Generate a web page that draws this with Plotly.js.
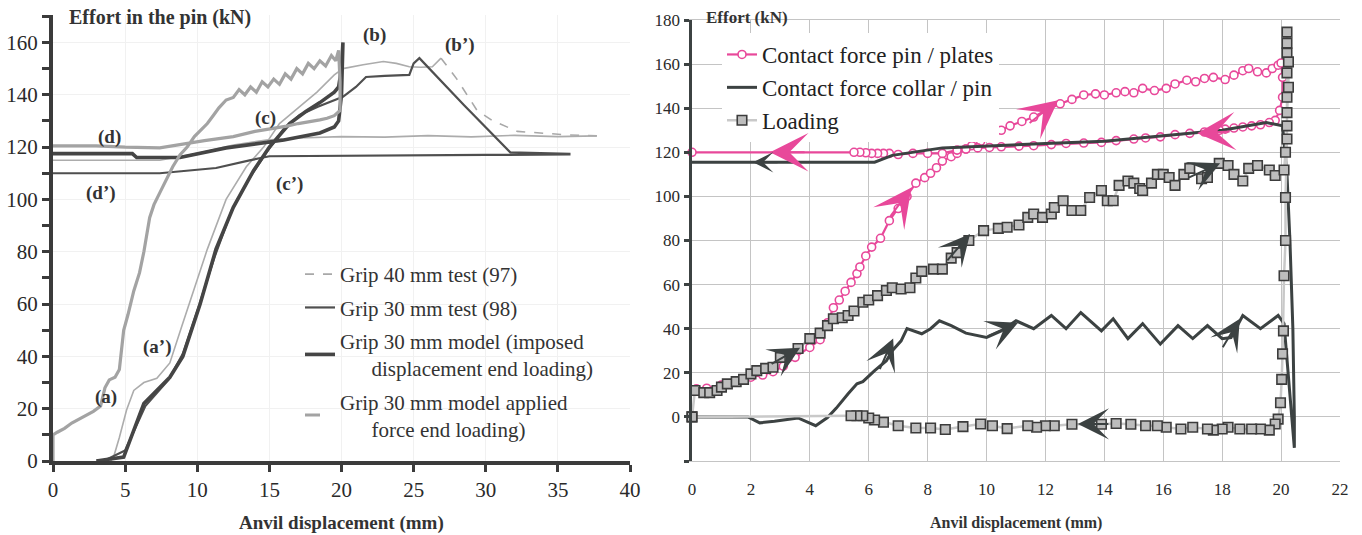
<!DOCTYPE html>
<html><head><meta charset="utf-8">
<script src="https://cdn.plot.ly/plotly-3.0.1.min.js"></script>
<style>body{margin:0;background:#fff}#c{width:1362px;height:535px}</style>
</head><body><div id="c"></div>
<script>
// ---------- LEFT PANEL DATA ----------
const t97X = [4.0,4.2,4.6,5.1,5.6,6.3,7.2,8.1,8.9,9.7,10.7,12.0,13.4,14.6,15.7,17.1,18.3,19.5,20.1,21.5,22.9,23.8,24.7,25.5,26.3,26.9];
const t97Y = [0,1.5,9,19.5,27,30,31.6,37.5,51,64,81,100,112.5,120,129,135.5,141,147.6,150,151.5,152.7,152,150.7,150.5,150.7,154];
const t97DX = [26.9,28.0,29.4,30.5,32.2,34.0,35.6,37.7];
const t97DY = [154,146,134,130,126,125.4,124.7,124.3];
const t97RX = [37.7,35,32,29,26,23,20,17,14.8,12.5,10.2,7.4,0];
const t97RY = [124.3,124.0,124.5,123.9,124.4,123.8,124.0,123.5,122.7,120.8,117.8,115,115];

const t98X = [3.5,5.0,6.4,8.0,9.0,10.1,11.2,12.4,13.6,14.8,16.0,17.1,18.4,19.3,20.1,21.0,21.7,23.0,24.7,25.0,25.4,28.5,31.7,35.8];
const t98Y = [0,4,21,31,41,59,78,96,108,118,127,132.3,135.5,137.5,139.2,143,146.8,147.2,147.6,152,154,136,118,117.4];
const t98RX = [35.8,30,25,20,15,13.7,11.3,7.4,0];
const t98RY = [117.2,117.0,116.9,116.8,116.5,115,112,110,110];

const miX = [3.0,4.9,6.3,8.1,9.0,10.2,11.3,12.5,13.9,15.0,16.4,17.5,18.5,19.5,19.8,20.0,20.1];
const miY = [0,1.5,22,32,40,60,81,97,111,120,129,133.5,137,141,143,150,160];
const miUnX = [20.0,19.8,19.5,18.5,16,12,8.8,5.8,5.5,0];
const miUnY = [140,130,127.7,125.4,122.7,119.7,116,116,117.5,117.5];

const maX = [0,0,0.3,0.8,1.3,1.8,2.3,2.8,3.3,3.6,3.9,4.3,4.6,4.9,5.2,5.6,6.0,6.3,6.7,7.0,7.4,7.8,8.3,8.8,9.3,9.8,10.3,10.7,11.1,11.5,12.0,12.5,12.9,13.3,13.7,14.1,14.5,14.9,15.3,15.7,16.1,16.5,16.9,17.3,17.7,18.1,18.5,18.9,19.3,19.6,19.8];
const maY = [0,10,11,12.5,14.5,16,17.5,19,21,28,31,32,35,50,56,65,72,80,93,98,102.5,107,112.5,117,120,124,127,129,132,135,138,139,142,140,143,141,145,143,146,144,148,146,150,148,152,150,153,151,155,153,157];
const maUnX = [19.9,19.9,19.5,19.0,18.5,17,16.2,14,12.5,10.5,8.8,7.4,5,3,0];
const maUnY = [145,134,132,131,130.4,129,128,126,124,122.5,121,119.7,120,120.5,120.5];

const leftLabels = ['(a)','(a’)','(b)','(b’)','(c)','(c’)','(d)','(d’)'];
const leftLabelX = [3.7,7.2,22.3,28.2,14.7,16.4,3.95,3.3];
const leftLabelY = [24.5,43.6,163,159,131,106,124,102.5];

// ---------- RIGHT PANEL DATA ----------
const ppLoadX = [0.15,0.5,1.0,1.5,2.0,2.4,2.75,3.1,3.5,4.0,4.35,4.6,4.8,5.0,5.2,5.4,5.6,5.7,5.9,6.1,6.4,6.7,7.0,7.3,7.6,7.9,8.1,8.3,8.5,8.8,9.0,9.3,9.5,9.8,10.1,10.5,10.8,11.2,11.6,12.0,12.5,12.9,13.3,13.7,14.0,14.4,14.7,15.0,15.3,15.7,16.1,16.4,16.8,17.1,17.4,17.7,18.1,18.4,18.7,18.9,19.2,19.5,19.7,19.9,20.0];
const ppLoadY = [12.7,13,14.5,16,18,19,20.5,23,27,31.5,35,42.7,49.5,53,57,61,65,68,73,77,81,89,94.5,100,106,108.5,110.5,113,116,118,119.5,121.5,123,125,127,130,132,134,136,139,142,144,146,146.5,146,147,147.5,147,149,148,149,151,152.7,152,153.5,154,153,155,157,158,156.5,156,158,159.5,160.5];
const ppUnX = [20.05,20.05,19.95,19.8,19.6,19.3,19.0,18.7,18.4,18.1,17.9,17.4,16.9,16.4,15.9,15.4,15.0,14.4,13.9,13.3,12.7,12.2,11.6,11.1,10.5,10.1,9.7,9.3,9.0,8.5,8.0,7.5,7.0,6.7,6.5,6.3,6.1,5.9,5.7,5.5,0];
const ppUnY = [154,145,139,134.5,133.5,132.5,132,131.5,131,130.5,130,129.2,128.6,128,127,126.5,126,125.3,124.5,124.2,124,123.5,123,122.8,122.5,122.2,122,121.5,121,119.5,119.5,119.5,119,119.5,119.5,119.5,119.5,119.8,120,120,120];

const cpLoadX = [0,1.9,2.3,2.8,3.6,4.2,4.6,4.9,5.3,5.6,5.8,6.2,6.6,6.8,7.1,7.3,7.8,8.1,8.4,8.8,9.3,9.8,10.0,10.5,11.0,11.6,12.2,12.7,13.2,13.9,14.3,14.8,15.3,15.9,16.5,17.0,17.5,18.0,18.3,18.7,19.3,19.9,20.1];
const cpLoadY = [0,0,-2.7,-2,-0.5,-4,-0.3,4,10.5,15,16,21,25.5,30,34.5,40,37.7,40,43.6,41.4,38,36.8,36,39,43.6,40,46,40,47.3,39,44.5,35.5,42.3,33,41.4,35.5,41.4,35.5,36,46,40,46,42.3];
const cpUnX = [20.3,20.45,20.45,20.4,20.3,20.2,20.05,19.5,18,16,14,12,10,8.5,6.8,6.2,0];
const cpUnY = [10,-14,0,40,80,110,132,133.5,130,127.5,125,124,123,122,118.6,115.5,115.5];

const ldUpX = [0,0.1,0.4,0.6,0.85,1.0,1.2,1.5,1.75,2.0,2.2,2.5,2.75,3.0,3.6,4.0,4.35,4.6,4.8,5.1,5.3,5.5,5.8,6.0,6.3,6.6,6.8,7.1,7.4,7.6,7.8,8.2,8.5,8.8,9.0,9.4,9.9,10.4,10.7,11.1,11.4,11.6,11.9,12.2,12.3,12.6,12.9,13.2,13.5,13.9,14.1,14.3,14.5,14.8,15.0,15.2,15.3,15.6,15.8,16.0,16.2,16.4,16.7,16.9,17.3,17.5,17.9,18.2,18.4,18.7,18.9,19.2,19.6,19.8,20.1];
const ldUpY = [0,12,11,11,12,13.5,15,16,17,19.5,21,22,22.5,27,31,35.5,38,41.4,44.5,45,46,48,52,53,55,57.3,58.6,58,58.6,63,66,67,67,72,74.5,80,84.5,85.5,86,87,90.5,92,90.5,92,95,98,93.6,93.6,99.5,102.7,98,98,105,107,106,103.6,102.7,106,110,110,108.6,105,110,112.7,108,108.6,115,114,110,107,112.7,114,112,109.5,112];
const ldSpikeX = [20.15,20.2,20.2,20.2,20.2,20.2,20.2,20.25,20.25,20.2,20.2,20.15,20.15,20.1,20.08,20.05,20.02,19.98,19.9,19.8];
const ldSpikeY = [120,132,145,156,165,174.5,169.5,161,149.5,138,126,99.5,80,64,39,28.6,17,6.4,-1,-3.2];
const ldBackX = [19.6,19.3,19.0,18.6,18.2,18.0,17.7,17.5,17.0,16.6,16.1,15.8,15.4,14.9,14.4,13.9,12.9,12.3,12.0,11.7,11.4,10.7,10.2,9.8,9.2,8.6,8.1,7.6,7.0,6.5,6.2,6.0,5.8,5.6,5.4,0];
const ldBackY = [-6,-5.5,-5.5,-5.5,-4.7,-5.5,-6,-5.5,-4.7,-5.5,-4.7,-4,-4,-3.3,-3,-3.3,-3.3,-4,-4,-4.7,-4,-5.3,-4,-3.2,-4.4,-5.7,-5,-5,-4,-2.4,-1.4,-0.5,0.5,0.5,0.5,0];

// direction arrows on the right panel (tip in data units, tail offset in px)
const arrowX = [2.65,2.07,7.45,12.43,17.15,3.67,9.44,17.93,6.83,11.07,18.6,13.1];
const arrowY = [120,115.5,104,143.6,128.6,31.4,83,115,35.5,42.7,44.5,-3.2];
const arrowKind = ['p','d','p','p','p','d','d','d','d','d','d','d'];
const arrowAX = [36,26,-22,-30,34,-30,-24,-33,-14,-32,-18,32];
const arrowAY = [0,0,30,24,-2,17,28,15,32,14,30,0];

// ---------- STYLE ----------
const W = 1362, H = 535;
const px = v => v / W, py = v => 1 - v / H;
const FONT = 'Liberation Serif';
const DARK = '#3b3b3b', PINK = '#e8489a', CDARK = '#3c4242', GRID = '#c4c4c4';

const traces = [
  {x:t97X, y:t97Y, mode:'lines', line:{color:'#acacac', width:1.6}, showlegend:false, xaxis:'x', yaxis:'y'},
  {x:t97DX, y:t97DY, mode:'lines', name:'Grip 40 mm test (97)', legendgroup:'a', line:{color:'#a8a8a8', width:1.6, dash:'dash'}, xaxis:'x', yaxis:'y'},
  {x:t97RX, y:t97RY, mode:'lines', line:{color:'#acacac', width:1.6}, showlegend:false, xaxis:'x', yaxis:'y'},
  {x:t98X.concat(t98RX), y:t98Y.concat(t98RY), mode:'lines', name:'Grip 30 mm test (98)', legendgroup:'b', line:{color:'#4f4f4f', width:2.2}, xaxis:'x', yaxis:'y'},
  {x:miX.concat(miUnX), y:miY.concat(miUnY), mode:'lines', name:'Grip 30 mm model (imposed<br>\u00a0\u00a0\u00a0\u00a0\u00a0\u00a0displacement end loading)', legendgroup:'c', line:{color:'#454545', width:3.6}, xaxis:'x', yaxis:'y'},
  {x:maX.concat(maUnX), y:maY.concat(maUnY), mode:'lines', line:{color:'#a3a3a3', width:3.2}, showlegend:false, xaxis:'x', yaxis:'y'},
  {x:[null], y:[null], mode:'lines', name:'Grip 30 mm model applied<br>\u00a0\u00a0\u00a0\u00a0\u00a0\u00a0force end loading)', legendgroup:'d', line:{color:'#a3a3a3', width:3, dash:'longdash'}, xaxis:'x', yaxis:'y'},

  {x:ppLoadX.concat(ppUnX), y:ppLoadY.concat(ppUnY), mode:'lines+markers', name:'Contact force pin / plates', legend:'legend2',
   line:{color:PINK, width:2.2}, marker:{symbol:'circle', size:8, color:'#ffffff', line:{color:PINK, width:1.6}}, xaxis:'x2', yaxis:'y2', cliponaxis:false},
  {x:cpLoadX.concat(cpUnX), y:cpLoadY.concat(cpUnY), mode:'lines', name:'Contact force collar / pin', legend:'legend2',
   line:{color:CDARK, width:3}, xaxis:'x2', yaxis:'y2', cliponaxis:false},
  {x:ldUpX.concat(ldSpikeX, ldBackX), y:ldUpY.concat(ldSpikeY, ldBackY), mode:'lines+markers', name:'Loading', legend:'legend2',
   line:{color:'#c9c9c9', width:2.5}, marker:{symbol:'square', size:9.5, color:'#bdbdbd', line:{color:'#3c3c3c', width:1.6}}, xaxis:'x2', yaxis:'y2', cliponaxis:false}
];

const annotations = [];
leftLabels.forEach((t, i) => annotations.push({xref:'x', yref:'y', x:leftLabelX[i], y:leftLabelY[i], text:'<b>' + t + '</b>', showarrow:false, font:{family:FONT, size:19, color:'#333'}}));
arrowX.forEach((x, i) => {
  const pink = arrowKind[i] === 'p';
  annotations.push({xref:'x2', yref:'y2', x:x, y:arrowY[i], ax:arrowAX[i], ay:arrowAY[i], text:'', showarrow:true,
    arrowhead:3, arrowwidth:2, arrowsize: pink ? 3.2 : (i === 1 ? 1.7 : 2.6), arrowcolor: pink ? PINK : CDARK, standoff:0});
});
annotations.push(
  {xref:'paper', yref:'paper', x:px(67), y:py(18), xanchor:'left', yanchor:'middle', text:'<b>Effort in the pin (kN)</b>', showarrow:false, font:{family:FONT, size:20, color:'#333'}},
  {xref:'paper', yref:'paper', x:px(341), y:py(523), xanchor:'center', yanchor:'middle', text:'<b>Anvil displacement (mm)</b>', showarrow:false, font:{family:FONT, size:19, color:'#333'}},
  {xref:'paper', yref:'paper', x:px(704), y:py(17), xanchor:'left', yanchor:'middle', text:'<b>Effort (kN)</b>', showarrow:false, font:{family:FONT, size:17, color:'#333'}},
  {xref:'paper', yref:'paper', x:px(1016), y:py(523), xanchor:'center', yanchor:'middle', text:'<b>Anvil displacement (mm)</b>', showarrow:false, font:{family:FONT, size:16, color:'#333'}}
);

const rTicks = [-20,0,20,40,60,80,100,120,140,160,180];
const rTickText = ['','0','20','40','60','80','100','120','140','160','180'];
const xTicks2 = [0,2,4,6,8,10,12,14,16,18,20,22];
const zeroPos = py(461) + (20/200) * (py(20) - py(461));

const layout = {
  width:W, height:H, margin:{l:0, r:0, t:0, b:0},
  paper_bgcolor:'#ffffff', plot_bgcolor:'#ffffff',
  font:{family:FONT, color:'#2a2a2a'},
  showlegend:true,
  legend:{x:px(300), y:py(254), xanchor:'left', yanchor:'top', bgcolor:'rgba(0,0,0,0)', font:{family:FONT, size:21, color:'#333'}, tracegroupgap:3, itemwidth:30},
  legend2:{x:px(722), y:py(33), xanchor:'left', yanchor:'top', bgcolor:'#ffffff', font:{family:FONT, size:23, color:'#222'}, tracegroupgap:0, itemwidth:30},
  xaxis:{domain:[px(53), px(630)], anchor:'y', range:[0,40], dtick:5, tick0:0, ticks:'outside', ticklen:7, tickwidth:3, tickcolor:DARK,
         showline:true, linewidth:4, linecolor:DARK, showgrid:true, gridcolor:'#f1f1f1', zeroline:false, tickfont:{family:FONT, size:21, color:'#2a2a2a'}},
  yaxis:{domain:[py(461), py(15)], anchor:'x', range:[0,170.5], dtick:20, tick0:0, ticks:'outside', ticklen:7, tickwidth:3, tickcolor:DARK,
         minor:{dtick:10, tick0:0, ticks:'outside', ticklen:7, tickwidth:3, tickcolor:DARK, showgrid:false},
         showline:true, linewidth:4, linecolor:DARK, showgrid:true, gridcolor:'#f1f1f1', zeroline:false, tickfont:{family:FONT, size:21, color:'#2a2a2a'}},
  yaxis3:{overlaying:'y', anchor:'x', side:'left', range:[0,170.5], dtick:10, tick0:0, ticks:'inside', ticklen:7, tickwidth:3, tickcolor:DARK,
          showticklabels:false, showgrid:false, zeroline:false, showline:false},
  xaxis5:{overlaying:'x', anchor:'y', side:'bottom', range:[0,40], dtick:5, tick0:0, ticks:'inside', ticklen:7, tickwidth:3, tickcolor:DARK,
          showticklabels:false, showgrid:false, zeroline:false, showline:false},

  xaxis2:{domain:[px(692), px(1340)], anchor:'y2', range:[0,22], tickmode:'array', tickvals:xTicks2, ticks:'', showgrid:true, gridcolor:GRID, gridwidth:1,
          showline:true, linecolor:GRID, linewidth:1, mirror:true, zeroline:false, tickfont:{family:FONT, size:17, color:'#2a2a2a'}, ticklabelstandoff:13},
  yaxis2:{domain:[py(461), py(20)], anchor:'x2', range:[-20,180], tickmode:'array', tickvals:rTicks, ticktext:rTickText, ticks:'outside', ticklen:5, tickwidth:3, tickcolor:CDARK,
          showline:true, linewidth:3.5, linecolor:CDARK, showgrid:true, gridcolor:GRID, gridwidth:1, zeroline:false, tickfont:{family:FONT, size:17, color:'#2a2a2a'}},
  yaxis4:{overlaying:'y2', anchor:'x2', side:'left', range:[-20,180], tickmode:'array', tickvals:rTicks, ticks:'inside', ticklen:5, tickwidth:3, tickcolor:CDARK,
          showticklabels:false, showgrid:false, zeroline:false, showline:false},
  yaxis5:{overlaying:'y2', anchor:'x2', side:'right', range:[-20,180], ticks:'', showticklabels:false, showgrid:false, zeroline:false, showline:true, linecolor:GRID, linewidth:1},
  xaxis3:{overlaying:'x2', anchor:'free', position:zeroPos, side:'bottom', range:[0,22], tickmode:'array', tickvals:xTicks2, ticks:'outside', ticklen:5, tickwidth:2.5, tickcolor:CDARK,
          showticklabels:false, showgrid:false, zeroline:false, showline:true, linecolor:CDARK, linewidth:3},
  xaxis4:{overlaying:'x2', anchor:'free', position:zeroPos, side:'bottom', range:[0,22], tickmode:'array', tickvals:xTicks2, ticks:'inside', ticklen:5, tickwidth:2.5, tickcolor:CDARK,
          showticklabels:false, showgrid:false, zeroline:false, showline:false},
  annotations:annotations
};

Plotly.newPlot('c', traces, layout, {displayModeBar:false, staticPlot:true});
</script>
</body></html>
